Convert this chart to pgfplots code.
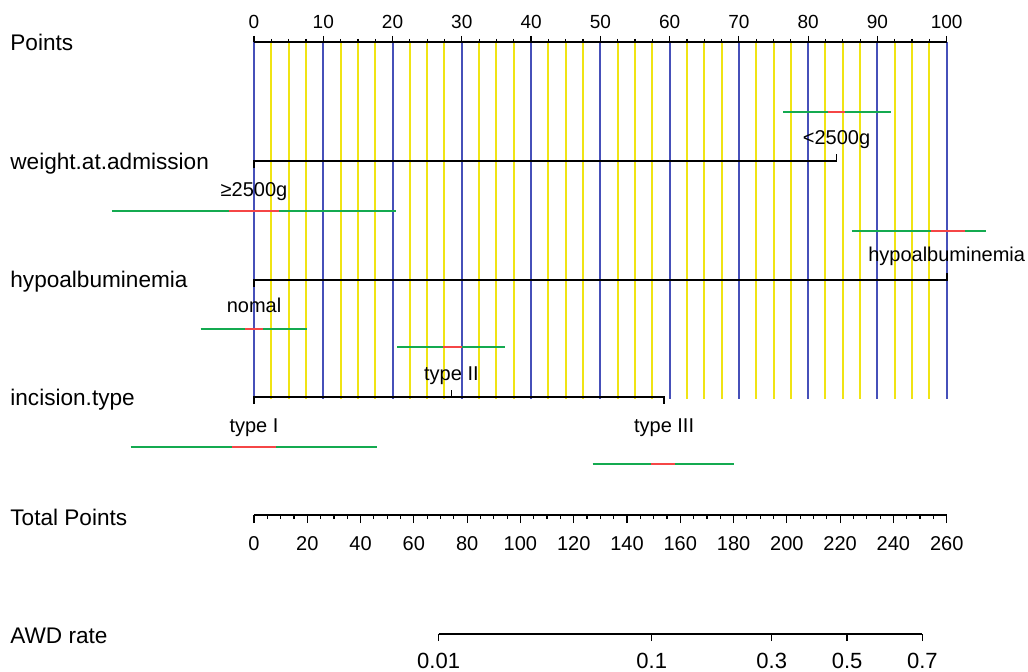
\documentclass[border=0pt]{standalone}
\usepackage{pgfplots}
\pgfplotsset{compat=1.18}
\usepackage{fontspec}
\setmainfont{Liberation Sans}
\definecolor{nblue}{RGB}{70,80,185}
\definecolor{nyellow}{RGB}{240,228,20}
\definecolor{ngreen}{RGB}{20,170,80}
\definecolor{nred}{RGB}{245,70,70}
\begin{document}
\begin{tikzpicture}
\useasboundingbox (0,0) rectangle (514pt,335.5pt);
% Points scale with reference lines
\begin{axis}[
  at={(127pt,314.5pt)}, anchor=north west,
  scale only axis, width=346.35pt, height=178.5pt,
  xmin=0, xmax=100, ymin=0, ymax=1,
  axis x line*=top, axis y line=none,
  xtick={0,10,...,100}, minor x tick num=3,
  xmajorgrids, xminorgrids,
  major grid style={nblue, line width=1pt},
  minor grid style={nyellow, line width=1pt},
  xtick align=outside, major tick length=3pt, minor tick length=1.5pt,
  tick style={black, line width=0.6pt},
  axis line style={black, line width=0.8pt, -},
  /pgf/number format/assume math mode=true,
  xticklabel style={font=\fontsize{9.5}{11}\selectfont},
]
\addplot[draw=none] coordinates {(0,0)};
\end{axis}
% Variable rows
\begin{axis}[
  at={(127pt,0pt)}, anchor=south west,
  scale only axis, width=346.35pt, height=335.5pt,
  xmin=0, xmax=100, ymin=0, ymax=671, y dir=reverse,
  hide axis, clip=false,
]
% weight.at.admission
\addplot[black, line width=0.8pt] coordinates {(0,168)(0,161)(84.1,161)(84.1,154)};
% hypoalbuminemia
\addplot[black, line width=0.8pt] coordinates {(0,287)(0,280)(100,280)(100,273)};
% incision.type
\addplot[black, line width=0.8pt] coordinates {(0,404)(0,397)(59.2,397)(59.2,404)};
\addplot[black, line width=0.8pt] coordinates {(28.5,397)(28.5,390)};
% confidence bars
\addplot[ngreen, line width=1pt] coordinates {(76.4,112)(92.0,112)};
\addplot[nred, line width=1pt] coordinates {(82.8,112)(85.3,112)};
\addplot[ngreen, line width=1pt] coordinates {(-20.5,210.7)(20.5,210.7)};
\addplot[nred, line width=1pt] coordinates {(-3.65,210.7)(3.65,210.7)};
\addplot[ngreen, line width=1pt] coordinates {(86.3,230.9)(105.6,230.9)};
\addplot[nred, line width=1pt] coordinates {(97.7,230.9)(102.7,230.9)};
\addplot[ngreen, line width=1pt] coordinates {(-7.7,329)(7.6,329)};
\addplot[nred, line width=1pt] coordinates {(-1.3,329)(1.35,329)};
\addplot[ngreen, line width=1pt] coordinates {(20.7,347.3)(36.2,347.3)};
\addplot[nred, line width=1pt] coordinates {(27.3,347.3)(30.0,347.3)};
\addplot[ngreen, line width=1pt] coordinates {(-17.8,446.7)(17.7,446.7)};
\addplot[nred, line width=1pt] coordinates {(-3.2,446.7)(3.2,446.7)};
\addplot[ngreen, line width=1pt] coordinates {(48.9,464)(69.3,464)};
\addplot[nred, line width=1pt] coordinates {(57.3,464)(60.8,464)};
% category labels
\begin{scope}[every node/.style={font=\fontsize{10}{12}\selectfont, inner sep=0pt, anchor=base}]
\node at (axis cs:84.1,144) {<2500g};
\node at (axis cs:0,196) {≥2500g};
\node at (axis cs:100,261) {hypoalbuminemia};
\node at (axis cs:0,312) {nomal};
\node at (axis cs:28.5,380) {type II};
\node at (axis cs:0,432) {type I};
\node at (axis cs:59.2,432.5) {type III};
\end{scope}
\end{axis}
% Total Points scale
\begin{axis}[
  at={(127pt,78pt)}, anchor=south west,
  scale only axis, width=346.35pt, height=10pt,
  xmin=0, xmax=260, ymin=0, ymax=1,
  axis x line*=bottom, axis y line=none,
  xtick={0,20,...,260}, minor x tick num=3,
  xtick align=outside, major tick length=4pt, minor tick length=2pt,
  tick style={black, line width=0.6pt},
  axis line style={black, line width=0.8pt, -},
  /pgf/number format/assume math mode=true,
  xticklabel style={font=\fontsize{10}{12}\selectfont, yshift=-3pt},
]
\addplot[draw=none] coordinates {(0,0)};
\end{axis}
% AWD rate scale
\begin{axis}[
  at={(219.3pt,18.5pt)}, anchor=south west,
  scale only axis, width=241.9pt, height=10pt,
  xmin=-4.59512, xmax=0.84730, ymin=0, ymax=1,
  axis x line*=bottom, axis y line=none,
  xtick={-4.59512,-2.19722,-0.84730,0,0.84730},
  xticklabels={0.01,0.1,0.3,0.5,0.7},
  xtick align=outside, major tick length=3.5pt,
  tick style={black, line width=0.6pt},
  axis line style={black, line width=0.8pt, -},
  xticklabel style={font=\fontsize{11}{13}\selectfont, yshift=-2.5pt},
]
\addplot[draw=none] coordinates {(0,0)};
\end{axis}
% variable names
\begin{scope}[every node/.style={font=\fontsize{11.3}{13}\selectfont, inner sep=0pt, anchor=base west}]
\node at (5pt,310pt) {Points};
\node at (5pt,251pt) {weight.at.admission};
\node at (5pt,192pt) {hypoalbuminemia};
\node at (5pt,133pt) {incision.type};
\node at (5pt,73pt) {Total Points};
\node at (5pt,14pt) {AWD rate};
\end{scope}
\end{tikzpicture}
\end{document}
